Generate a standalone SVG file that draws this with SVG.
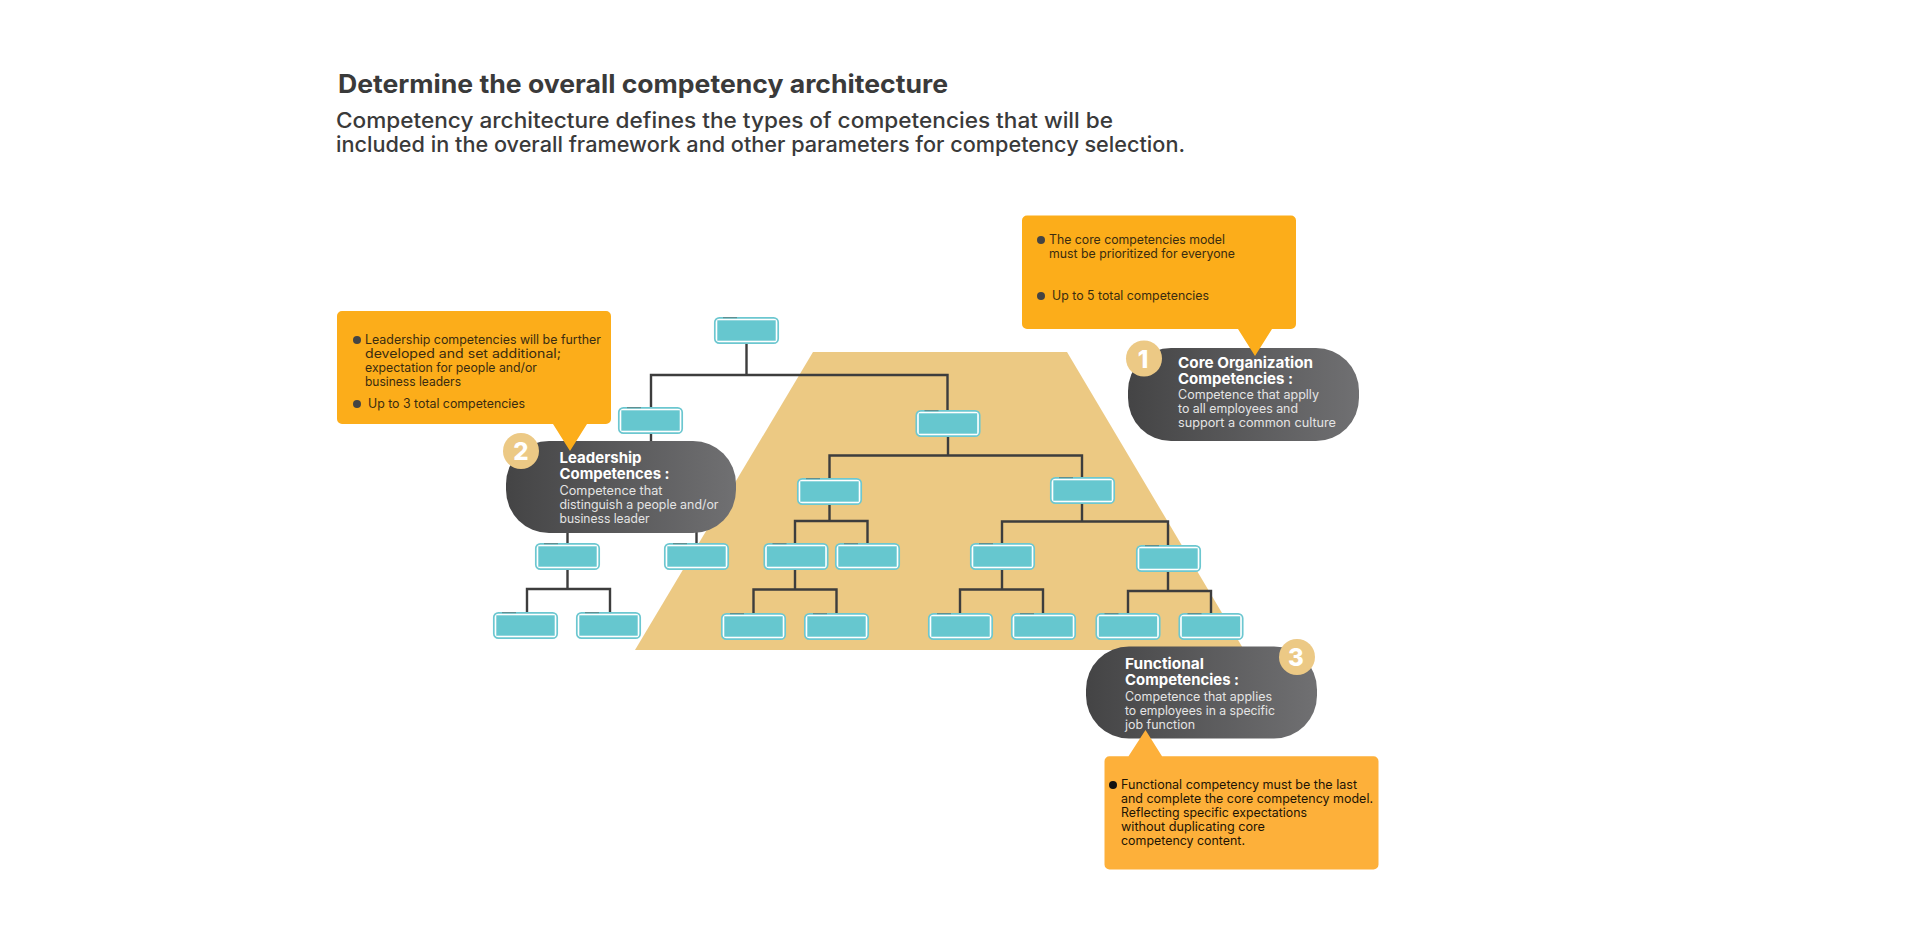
<svg xmlns="http://www.w3.org/2000/svg" xmlns:xlink="http://www.w3.org/1999/xlink" width="1920" height="925" viewBox="0 0 1920 925">
<style>
text{font-family:Inter,"Liberation Sans",sans-serif}
.h{font-size:25px;font-weight:700;fill:#3a3a3a}
.s{font-size:21px;font-weight:500;fill:#3a3a3a}
.t{font-size:15px;font-weight:700;fill:#fff}
.b{font-size:12.500px;font-weight:400;fill:#e4e4e4}
.c{font-size:12.500px;font-weight:400;fill:#3a2c10}
.d{font-size:12.500px;font-weight:400;fill:#1e1404}
.n{font-size:24px;font-weight:800;fill:#fff;text-anchor:middle}
.pill{fill:url(#pg)}
.badge{fill:#ecc985}
.call{fill:#fcad1a}
.call3{fill:#fdb03a}
.dot{fill:#444}
.line{fill:none;stroke:#3d3d3d;stroke-width:2.400}
</style>
<defs>
<linearGradient id="pg" x1="0" x2="1" y1="0" y2="0"><stop offset="0" stop-color="#444445"/><stop offset="1" stop-color="#707072"/></linearGradient>
<g id="box">
<rect x="0.800" y="0.800" width="63.400" height="25.400" rx="4.500" fill="#fff" stroke="#6cc7d0" stroke-width="1.700"/>
<rect x="3.300" y="3.300" width="58.400" height="20.400" fill="#66c7cf"/>
<rect x="9" y="0" width="14" height="1.200" fill="#5f8f92"/>
</g>
</defs>
<rect width="1920" height="925" fill="#fff"/>
<polygon id="trapezoid" points="813,352 1067,352 1244,650 635,650" fill="#ecc983"/>
<g id="heading">
<text class="h" x="338" y="93" textLength="610" lengthAdjust="spacingAndGlyphs">Determine the overall competency architecture</text>
<text class="s" x="336" y="128" textLength="777" lengthAdjust="spacingAndGlyphs">Competency architecture defines the types of competencies that will be</text>
<text class="s" x="336" y="151.500" textLength="849" lengthAdjust="spacingAndGlyphs">included in the overall framework and other parameters for competency selection.</text>
</g>
<g id="connectors" class="line">
<path d="M746.500 344V375M651 407V375H947.500V410"/>
<path d="M651 433V500M567.500 543V500H696.500V543"/>
<path d="M567.500 570V589M527 612V589H610V612"/>
<path d="M948 436V455.500M829.500 478V455.500H1082V477"/>
<path d="M829.500 505V521M795 543V521H867.500V543"/>
<path d="M795 570V589.500M753.500 613V589.500H836.500V613"/>
<path d="M1082 503V521.500M1002 543V521.500H1168V545"/>
<path d="M1002 570V589.500M960 613V589.500H1043V613"/>
<path d="M1168 571V591M1128 613V591H1211V613"/>
</g>
<g id="org-nodes">
<use id="node-root" href="#box" x="714" y="317"/>
<use id="node-l2a" href="#box" x="618" y="407"/>
<use id="node-l2b" href="#box" x="915.500" y="410"/>
<use id="node-l3a" href="#box" x="535" y="543"/>
<use id="node-l3b" href="#box" x="664" y="543"/>
<use id="node-l3c" href="#box" x="797" y="478"/>
<use id="node-l3d" href="#box" x="1050" y="477"/>
<use id="node-l4a" href="#box" x="763.500" y="543"/>
<use id="node-l4b" href="#box" x="835" y="543"/>
<use id="node-l4c" href="#box" x="970" y="543"/>
<use id="node-l4d" href="#box" x="1136" y="545"/>
<use id="node-l5a" href="#box" x="493" y="612"/>
<use id="node-l5b" href="#box" x="576" y="612"/>
<use id="node-l5c" href="#box" x="721" y="613"/>
<use id="node-l5d" href="#box" x="804" y="613"/>
<use id="node-l5e" href="#box" x="928" y="613"/>
<use id="node-l5f" href="#box" x="1011" y="613"/>
<use id="node-l5g" href="#box" x="1095.500" y="613"/>
<use id="node-l5h" href="#box" x="1178.500" y="613"/>
</g>
<g id="pill-core">
<rect class="pill" x="1128" y="348" width="231" height="93" rx="43"/>
<circle class="badge" cx="1144" cy="358.500" r="18"/>
<text class="n" x="1143" y="367.500">1</text>
<text class="t" x="1178" y="368" textLength="135" lengthAdjust="spacingAndGlyphs">Core Organization</text>
<text class="t" x="1178" y="384" textLength="115" lengthAdjust="spacingAndGlyphs">Competencies :</text>
<text class="b" x="1178" y="399" textLength="141" lengthAdjust="spacingAndGlyphs">Competence that applly</text>
<text class="b" x="1178" y="413" textLength="120" lengthAdjust="spacingAndGlyphs">to all employees and</text>
<text class="b" x="1178" y="427" textLength="158" lengthAdjust="spacingAndGlyphs">support a common culture</text>
</g>
<g id="callout-core">
<path class="call" d="M1027 215.500H1291a5 5 0 0 1 5 5V324a5 5 0 0 1-5 5H1272L1255 356 1238 329H1027a5 5 0 0 1-5-5V220.500a5 5 0 0 1 5-5Z"/>
<circle class="dot" cx="1041" cy="240" r="4"/>
<text class="c" x="1049" y="244" textLength="176" lengthAdjust="spacingAndGlyphs">The core competencies model</text>
<text class="c" x="1049" y="258" textLength="186" lengthAdjust="spacingAndGlyphs">must be prioritized for everyone</text>
<circle class="dot" cx="1041" cy="296" r="4"/>
<text class="c" x="1052" y="300" textLength="157" lengthAdjust="spacingAndGlyphs">Up to 5 total competencies</text>
</g>
<g id="pill-leadership">
<rect class="pill" x="506" y="441" width="230" height="92" rx="43"/>
<circle class="badge" cx="521" cy="451" r="18"/>
<text class="n" x="521" y="460">2</text>
<text class="t" x="559.500" y="463" textLength="82" lengthAdjust="spacingAndGlyphs">Leadership</text>
<text class="t" x="559.500" y="479" textLength="110" lengthAdjust="spacingAndGlyphs">Competences :</text>
<text class="b" x="559.500" y="495" textLength="103" lengthAdjust="spacingAndGlyphs">Competence that</text>
<text class="b" x="559.500" y="509" textLength="159" lengthAdjust="spacingAndGlyphs">distinguish a people and/or</text>
<text class="b" x="559.500" y="523" textLength="90" lengthAdjust="spacingAndGlyphs">business leader</text>
</g>
<g id="callout-leadership">
<path class="call" d="M342 311H606a5 5 0 0 1 5 5V419a5 5 0 0 1-5 5H587L570 451 553 424H342a5 5 0 0 1-5-5V316a5 5 0 0 1 5-5Z"/>
<circle class="dot" cx="357" cy="340" r="4"/>
<text class="c" x="365" y="344" textLength="236" lengthAdjust="spacingAndGlyphs">Leadership competencies will be further</text>
<text class="c" x="365" y="358" textLength="196" lengthAdjust="spacingAndGlyphs">developed and set additional;</text>
<text class="c" x="365" y="372" textLength="172" lengthAdjust="spacingAndGlyphs">expectation for people and/or</text>
<text class="c" x="365" y="386" textLength="96" lengthAdjust="spacingAndGlyphs">business leaders</text>
<circle class="dot" cx="357" cy="404" r="4"/>
<text class="c" x="368" y="408" textLength="157" lengthAdjust="spacingAndGlyphs">Up to 3 total competencies</text>
</g>
<g id="pill-functional">
<rect class="pill" x="1086" y="646.500" width="231" height="92" rx="43"/>
<circle class="badge" cx="1297" cy="657" r="18"/>
<text class="n" x="1296" y="666">3</text>
<text class="t" x="1125" y="668.500" textLength="79" lengthAdjust="spacingAndGlyphs">Functional</text>
<text class="t" x="1125" y="685" textLength="114" lengthAdjust="spacingAndGlyphs">Competencies :</text>
<text class="b" x="1125" y="701" textLength="147" lengthAdjust="spacingAndGlyphs">Competence that applies</text>
<text class="b" x="1125" y="715" textLength="150" lengthAdjust="spacingAndGlyphs">to employees in a specific</text>
<text class="b" x="1125" y="729" textLength="70" lengthAdjust="spacingAndGlyphs">job function</text>
</g>
<g id="callout-functional">
<path class="call3" d="M1109.500 756.300H1128.500L1145.500 730 1162 756.300H1373.500a5 5 0 0 1 5 5V864.500a5 5 0 0 1-5 5H1109.500a5 5 0 0 1-5-5V761.300a5 5 0 0 1 5-5Z"/>
<circle cx="1113" cy="785" r="4" fill="#111"/>
<text class="d" x="1121" y="789" textLength="236" lengthAdjust="spacingAndGlyphs">Functional competency must be the last</text>
<text class="d" x="1121" y="803" textLength="252" lengthAdjust="spacingAndGlyphs">and complete the core competency model.</text>
<text class="d" x="1121" y="817" textLength="186" lengthAdjust="spacingAndGlyphs">Reflecting specific expectations</text>
<text class="d" x="1121" y="831" textLength="144" lengthAdjust="spacingAndGlyphs">without duplicating core</text>
<text class="d" x="1121" y="845" textLength="124" lengthAdjust="spacingAndGlyphs">competency content.</text>
</g>
</svg>
